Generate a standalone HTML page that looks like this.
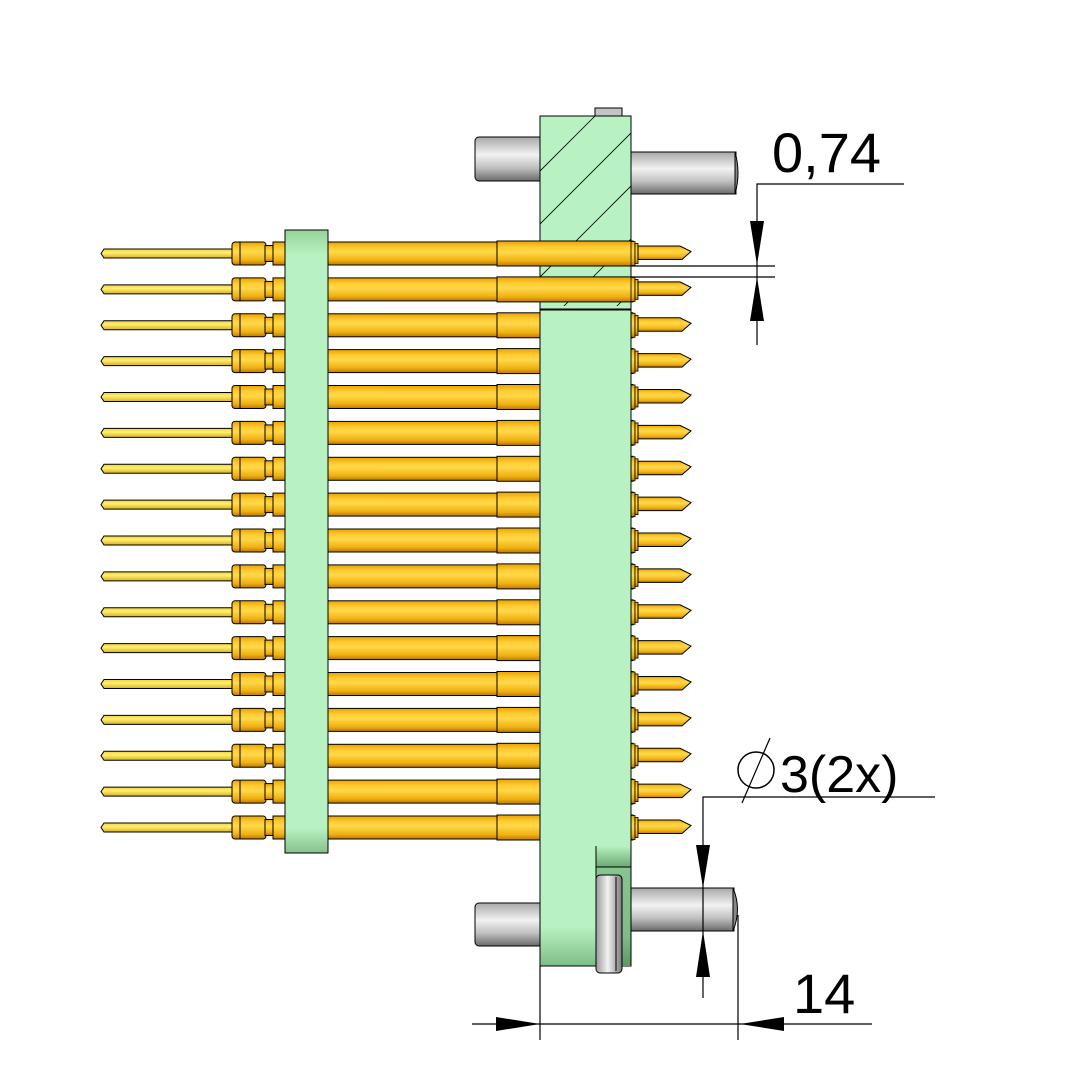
<!DOCTYPE html>
<html><head><meta charset="utf-8"><style>
html,body{margin:0;padding:0;background:#fff;}
svg{display:block;}
text{font-family:"Liberation Sans",sans-serif;}
</style></head><body>
<svg width="1082" height="1083" viewBox="0 0 1082 1083" xmlns="http://www.w3.org/2000/svg">
<defs>
<linearGradient id="gold" x1="0" y1="0" x2="0" y2="1">
<stop offset="0" stop-color="#e8a300"/><stop offset="0.25" stop-color="#ffcc33"/><stop offset="0.45" stop-color="#ffd84a"/><stop offset="0.8" stop-color="#f0b010"/><stop offset="1" stop-color="#b87800"/>
</linearGradient>
<linearGradient id="tail" x1="0" y1="0" x2="0" y2="1">
<stop offset="0" stop-color="#f0d040"/><stop offset="0.4" stop-color="#fff070"/><stop offset="1" stop-color="#d8b020"/>
</linearGradient>
<linearGradient id="steel" x1="0" y1="0" x2="0" y2="1">
<stop offset="0" stop-color="#a8a8a8"/><stop offset="0.4" stop-color="#f2f2f2"/><stop offset="0.7" stop-color="#c0c0c0"/><stop offset="1" stop-color="#6a6a6a"/>
</linearGradient>
<linearGradient id="steelh" x1="0" y1="0" x2="1" y2="0">
<stop offset="0" stop-color="#9a9a9a"/><stop offset="0.45" stop-color="#f2f2f2"/><stop offset="1" stop-color="#7a7a7a"/>
</linearGradient>
<linearGradient id="steelv" x1="0" y1="0" x2="0" y2="1">
<stop offset="0" stop-color="#c8c8c8"/><stop offset="0.5" stop-color="#e8e8e8"/><stop offset="1" stop-color="#6a6a6a"/>
</linearGradient>
<linearGradient id="plate" x1="0" y1="0" x2="0" y2="1">
<stop offset="0" stop-color="#96d29a"/><stop offset="0.04" stop-color="#b8f2c2"/><stop offset="0.96" stop-color="#b8f2c2"/><stop offset="1" stop-color="#86c08c"/>
</linearGradient>
<linearGradient id="notch" x1="0" y1="0" x2="0" y2="1">
<stop offset="0" stop-color="#b8f2c2"/><stop offset="0.3" stop-color="#a0dca8"/><stop offset="1" stop-color="#6aa872"/>
</linearGradient>
<linearGradient id="notch2" x1="0" y1="0" x2="0" y2="1">
<stop offset="0" stop-color="#88c490"/><stop offset="0.7" stop-color="#80bc88"/><stop offset="1" stop-color="#5a9a62"/>
</linearGradient>
<linearGradient id="blockbot" x1="0" y1="0" x2="0" y2="1">
<stop offset="0" stop-color="#b8f2c2"/><stop offset="0.94" stop-color="#b8f2c2"/><stop offset="1" stop-color="#80bc88"/>
</linearGradient>
<clipPath id="hc"><rect x="540" y="116" width="91" height="190"/></clipPath>
<g id="pin">
<path d="M104,-4.5 L233,-4.5 L233,4.5 L104,4.5 L101,0 Z" fill="url(#tail)" stroke="#000" stroke-width="1"/>
<rect x="232" y="-11.5" width="34" height="23" rx="3" fill="url(#gold)" stroke="#000" stroke-width="1"/>
<line x1="240" y1="-11.5" x2="240" y2="11.5" stroke="#000"/>
<rect x="265" y="-8" width="9" height="16" fill="url(#gold)" stroke="#000" stroke-width="1"/>
<rect x="273" y="-11.5" width="225" height="23" fill="url(#gold)" stroke="#000" stroke-width="1"/>
<rect x="497" y="-12.5" width="136" height="25" fill="url(#gold)" stroke="#000" stroke-width="1"/>
<rect x="631" y="-12" width="4" height="24" fill="url(#gold)" stroke="#000" stroke-width="0.8"/>
<rect x="635" y="-10" width="3" height="20" fill="url(#gold)" stroke="#000" stroke-width="0.8"/>
<path d="M638,-7.5 L680,-7.5 L691,-2 L682,6 L638,6 Z" fill="url(#gold)" stroke="#000" stroke-width="1"/>
</g>
</defs>

<!-- top pins of block -->
<rect x="475" y="137" width="70" height="44" rx="4" fill="url(#steel)" stroke="#000"/>
<rect x="628" y="152" width="108" height="42" fill="url(#steel)" stroke="#000"/>
<path d="M735,152 Q741,173 735,194 Z" fill="#888" stroke="#000"/>
<rect x="595" y="108" width="27" height="9" fill="#c4c4c4" stroke="#000"/>

<!-- bottom pins -->
<rect x="475" y="903" width="70" height="43" rx="4" fill="url(#steel)" stroke="#000"/>
<rect x="628" y="888" width="106" height="43" fill="url(#steel)" stroke="#000"/>
<path d="M733,888 Q742,909 733,931 Z" fill="#888" stroke="#000"/>

<!-- main block -->
<rect x="540" y="116" width="91" height="850" fill="url(#blockbot)" stroke="#000"/>
<g clip-path="url(#hc)" stroke="#000" stroke-width="0.8">
<line x1="500" y1="211" x2="700" y2="11"/>
<line x1="500" y1="264" x2="700" y2="64"/>
<line x1="500" y1="317" x2="700" y2="117"/>
<line x1="500" y1="370" x2="700" y2="170"/>
<line x1="500" y1="423" x2="700" y2="223"/>
<line x1="500" y1="476" x2="700" y2="276"/>
</g>
<line x1="540" y1="309" x2="631" y2="309" stroke="#000"/>

<!-- left plate -->
<rect x="285" y="230" width="43" height="623" fill="url(#plate)" stroke="#000"/>

<!-- pins -->
<use href="#pin" y="253.5"/><use href="#pin" y="289.4"/><use href="#pin" y="325.3"/><use href="#pin" y="361.1"/>
<use href="#pin" y="397"/><use href="#pin" y="432.9"/><use href="#pin" y="468.8"/><use href="#pin" y="504.6"/>
<use href="#pin" y="540.5"/><use href="#pin" y="576.4"/><use href="#pin" y="612.3"/><use href="#pin" y="648.1"/>
<use href="#pin" y="684"/><use href="#pin" y="719.9"/><use href="#pin" y="755.8"/><use href="#pin" y="791.6"/>
<use href="#pin" y="827.5"/>

<!-- plate over pins -->
<rect x="285" y="230" width="43" height="623" fill="url(#plate)" stroke="#000"/>
<!-- block over pins -->
<rect x="540" y="310" width="91" height="656" fill="url(#blockbot)" stroke="#000"/>
<rect x="596.5" y="846" width="34" height="21" fill="url(#notch)"/>
<rect x="596.5" y="867" width="34" height="99" fill="url(#notch2)"/>
<line x1="596" y1="846" x2="596" y2="966" stroke="#000"/>
<line x1="596" y1="867" x2="631" y2="867" stroke="#000"/>
<line x1="631" y1="310" x2="631" y2="966" stroke="#000"/>
<rect x="596" y="875" width="26" height="98" rx="4" fill="url(#steelh)" stroke="#000"/>
<line x1="616" y1="877" x2="616" y2="971" stroke="#000"/>

<!-- dimensions -->
<g stroke="#000" stroke-width="1.2" fill="none">
<polyline points="904,184 757,184 757,345"/>
<line x1="632" y1="266" x2="775" y2="266"/>
<line x1="632" y1="277" x2="775" y2="277"/>
<polyline points="935,797 703,797 703,998"/>
<line x1="540" y1="966" x2="540" y2="1040"/>
<line x1="738" y1="915" x2="738" y2="1040"/>
<line x1="472" y1="1024" x2="872" y2="1024"/>
<line x1="742" y1="803" x2="770" y2="738"/>
</g>
<g fill="#000">
<polygon points="750,221 764,221 757,265"/>
<polygon points="750,321 764,321 757,277"/>
<polygon points="696,845 710,845 703,888"/>
<polygon points="696,977 710,977 703,931"/>
<polygon points="496,1017 496,1031 540,1024"/>
<polygon points="784,1017 784,1031 740,1024"/>
</g>
<circle cx="756" cy="770" r="18" fill="none" stroke="#000" stroke-width="1.5"/>
<text x="772" y="172" font-size="56">0,74</text>
<text x="780" y="792" font-size="52">3(2x)</text>
<text x="793" y="1013" font-size="56">14</text>
</svg>
</body></html>
